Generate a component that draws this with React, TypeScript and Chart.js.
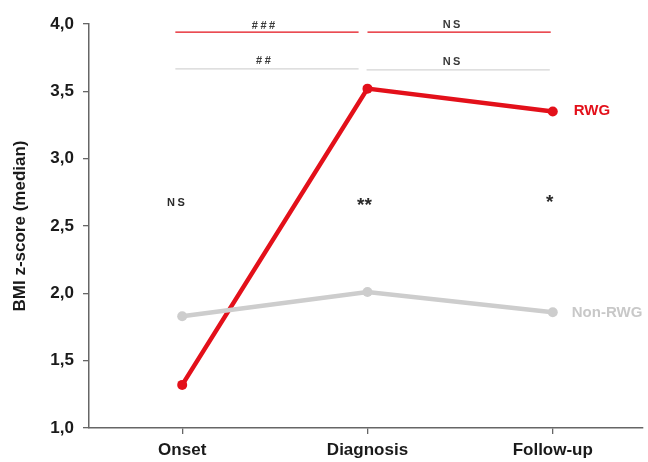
import React, { useEffect, useRef } from "react";
import { Chart, registerables } from "chart.js";

Chart.register(...registerables);

const categories = ["Onset", "Diagnosis", "Follow-up"];
const rwgValues = [1.32, 3.52, 3.35];
const nonRwgValues = [1.83, 2.01, 1.86];
const yTickLabels = ["1,0", "1,5", "2,0", "2,5", "3,0", "3,5", "4,0"];
const yTickValues = [1.0, 1.5, 2.0, 2.5, 3.0, 3.5, 4.0];
const seriesNames = ["RWG", "Non-RWG"];

const RED = "#e3101a";
const GRAY = "#cdcdcd";

// significance annotations (texts)
const bracketTexts = ["###", "NS", "##", "NS"];
const pointTexts = ["NS", "**", "*"];

const annotationPlugin = {
  id: "annotations",
  afterDatasetsDraw(chart: any) {
    const { ctx } = chart;
    const xs = chart.scales.x;
    const ys = chart.scales.y;
    const X = (v: number) => xs.getPixelForValue(v);
    const Y = (v: number) => ys.getPixelForValue(v);
    ctx.save();
    const brackets = [
      { x0: -0.037, x1: 0.952, y: 3.94, color: RED, text: bracketTexts[0], tx: 0.44, ty: 3.985 },
      { x0: 1.0, x1: 1.989, y: 3.94, color: RED, text: bracketTexts[1], tx: 1.455, ty: 3.99 },
      { x0: -0.037, x1: 0.952, y: 3.667, color: "#d4d4d4", text: bracketTexts[2], tx: 0.44, ty: 3.725 },
      { x0: 0.995, x1: 1.984, y: 3.66, color: "#d4d4d4", text: bracketTexts[3], tx: 1.455, ty: 3.715 },
    ];
    for (const b of brackets) {
      ctx.strokeStyle = b.color;
      ctx.lineWidth = 1.3;
      ctx.beginPath();
      ctx.moveTo(X(b.x0), Y(b.y));
      ctx.lineTo(X(b.x1), Y(b.y));
      ctx.stroke();
      ctx.fillStyle = "#3a3a3a";
      ctx.font = "bold 11px 'Liberation Sans', Arial, sans-serif";
      (ctx as any).letterSpacing = "2.5px";
      ctx.textAlign = "center";
      ctx.textBaseline = "middle";
      ctx.fillText(b.text, X(b.tx) + 1, Y(b.ty));
    }
    const pts = [
      { x: -0.027, y: 2.67, size: 11, text: pointTexts[0] },
      { x: 0.984, y: 2.68, size: 19, text: pointTexts[1] },
      { x: 1.984, y: 2.7, size: 19, text: pointTexts[2] },
    ];
    for (const p of pts) {
      ctx.fillStyle = "#2a2a2a";
      ctx.font = `bold ${p.size}px 'Liberation Sans', Arial, sans-serif`;
      (ctx as any).letterSpacing = p.size < 12 ? "2.5px" : "0px";
      ctx.textAlign = "center";
      ctx.textBaseline = "middle";
      ctx.fillText(p.text, X(p.x), Y(p.y) + (p.size > 12 ? 4 : 0));
    }
    (ctx as any).letterSpacing = "0px";
    ctx.font = "bold 15px 'Liberation Sans', Arial, sans-serif";
    ctx.textAlign = "left";
    ctx.textBaseline = "middle";
    ctx.fillStyle = RED;
    ctx.fillText(seriesNames[0], X(2) + 21, Y(rwgValues[2]) - 1);
    ctx.fillStyle = "#c8c8c8";
    ctx.fillText(seriesNames[1], X(2) + 19, Y(nonRwgValues[2]) + 1);
    ctx.restore();
  },
};

export default function App() {
  const ref = useRef<HTMLCanvasElement>(null);
  useEffect(() => {
    if (!ref.current) return;
    const chart = new Chart(ref.current, {
      type: "line",
      data: {
        datasets: [
          {
            label: seriesNames[1],
            data: nonRwgValues.map((v, i) => ({ x: i, y: v })),
            borderColor: GRAY,
            backgroundColor: GRAY,
            borderWidth: 4.5,
            pointRadius: 5,
            pointBorderWidth: 0,
          },
          {
            label: seriesNames[0],
            data: rwgValues.map((v, i) => ({ x: i, y: v })),
            borderColor: RED,
            backgroundColor: RED,
            borderWidth: 4.5,
            pointRadius: 5,
            pointBorderWidth: 0,
          },
        ],
      },
      options: {
        responsive: false,
        animation: false,
        layout: { padding: { top: 24, right: 0, left: 0, bottom: 0 } },
        plugins: { legend: { display: false }, tooltip: { enabled: false } },
        scales: {
          x: {
            type: "linear",
            min: -0.503,
            max: 2.487,
            afterBuildTicks: (s: any) => {
              s.ticks = categories.map((_, i) => ({ value: i }));
            },
            afterFit: (s: any) => {
              s.height = 34;
            },
            ticks: {
              callback: (v: any) => categories[v as number] ?? "",
              font: { family: "'Liberation Sans', Arial, sans-serif", size: 17, weight: "bold" },
              color: "#1a1a1a",
              padding: 6,
              maxRotation: 0,
            },
            grid: { drawOnChartArea: false, tickLength: 6, color: "#666", lineWidth: 1.3 },
            border: { color: "#666", width: 1.5 },
          },
          y: {
            type: "linear",
            min: 1,
            max: 4,
            afterBuildTicks: (s: any) => {
              s.ticks = yTickValues.map((v) => ({ value: v }));
            },
            afterFit: (s: any) => {
              s.width = 89;
            },
            ticks: {
              callback: (v: any) => yTickLabels[yTickValues.indexOf(v as number)] ?? "",
              font: { family: "'Liberation Sans', Arial, sans-serif", size: 17, weight: "bold" },
              color: "#1a1a1a",
              padding: 9,
            },
            grid: { drawOnChartArea: false, tickLength: 6, color: "#666", lineWidth: 1.3 },
            border: { color: "#666", width: 1.5 },
            title: {
              display: true,
              text: "BMI z-score (median)",
              font: { family: "'Liberation Sans', Arial, sans-serif", size: 17, weight: "bold" },
              color: "#1a1a1a",
              padding: { top: 10, bottom: 0 },
            },
          },
        },
      },
      plugins: [annotationPlugin],
    } as any);
    return () => chart.destroy();
  }, []);
  return (
    <div style={{ position: "absolute", left: 0, top: 0, width: 648, height: 462, background: "#fff" }}>
      <canvas ref={ref} width={648} height={462} />
    </div>
  );
}
